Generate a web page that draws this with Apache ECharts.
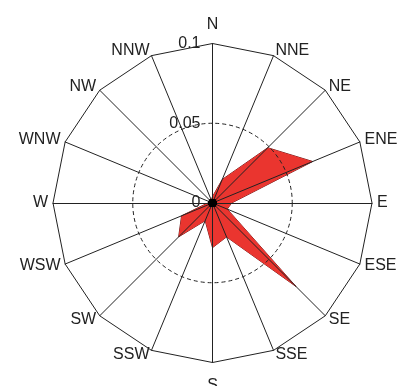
<!DOCTYPE html>
<html>
<head>
<meta charset="utf-8">
<style>
  html, body { margin: 0; padding: 0; background: #fff; }
  #chart { width: 398px; height: 386px; }
</style>
<script src="https://cdn.jsdelivr.net/npm/echarts@6/dist/echarts.min.js"></script>
</head>
<body>
<div id="chart"></div>
<script>
// Wind directions, clockwise from north
const directions = ['N', 'NNE', 'NE', 'ENE', 'E', 'ESE', 'SE', 'SSE',
                    'S', 'SSW', 'SW', 'WSW', 'W', 'WNW', 'NW', 'NNW'];
// Relative frequency per direction
const frequency = [0.004, 0.016, 0.049, 0.068, 0.012, 0.010, 0.074, 0.023,
                   0.028, 0.012, 0.030, 0.021, 0.003, 0.002, 0.002, 0.002];
// Radial scale
const radialMax = 0.1;
const radialTicks = [0, 0.05, 0.1];
const radialTickLabels = ['0', '0.05', '0.1'];

// ECharts radar lays indicators out counter-clockwise, so walk the list backwards
const order = [0].concat(directions.map((d, i) => i).slice(1).reverse());
const indicators = order.map(i => ({ name: directions[i], max: radialMax, min: 0 }));
const values = order.map(i => frequency[i]);
const zeros = order.map(() => 0);

const cx = 212.5, cy = 203, R = 159.5;
const lineColor = '#222';
const textColor = '#222';
const font = 'Liberation Sans, Arial, sans-serif';

const chart = echarts.init(document.getElementById('chart'), null, { renderer: 'canvas' });
chart.setOption({
  backgroundColor: '#fff',
  animation: false,
  radar: [
    {
      // outer frame, spokes and direction names
      center: [cx, cy],
      radius: R,
      startAngle: 90,
      shape: 'polygon',
      splitNumber: 1,
      indicator: indicators,
      z: 3,
      axisName: {
        color: textColor,
        fontFamily: font,
        fontSize: 16,
        formatter: function (name) {
          if (name === 'N') return '{n|N}';
          if (name === 'S') return '{s|S}';
          return name;
        },
        rich: {
          n: { fontSize: 16, fontFamily: font, color: textColor, padding: [0, 0, 6, 0] },
          s: { fontSize: 16, fontFamily: font, color: textColor, padding: [10, 0, 0, 0] }
        }
      },
      nameGap: 5,
      axisLine: { show: true, lineStyle: { color: lineColor, width: 1 } },
      axisTick: { show: false },
      axisLabel: { show: false },
      splitLine: { show: true, lineStyle: { color: lineColor, width: 1 } },
      splitArea: { show: false }
    },
    {
      // dashed inner ring at half the radial range
      center: [cx, cy],
      radius: R * radialTicks[1] / radialMax,
      startAngle: 90,
      shape: 'circle',
      splitNumber: 1,
      indicator: indicators.map(d => ({ name: '', max: radialMax, min: 0 })),
      z: 3,
      axisName: { show: false },
      axisLine: { show: false },
      axisTick: { show: false },
      axisLabel: { show: false },
      splitLine: { show: true, lineStyle: { color: lineColor, width: 1, type: [4, 3] } },
      splitArea: { show: false }
    }
  ],
  polar: { center: [cx, cy], radius: R },
  angleAxis: {
    type: 'value', startAngle: 90, min: 0, max: 360, show: false
  },
  radiusAxis: {
    type: 'value',
    min: radialTicks[0],
    max: radialMax,
    interval: radialTicks[1] - radialTicks[0],
    axisLine: { show: false },
    axisTick: { show: false },
    splitLine: { show: false },
    z: 5,
    axisLabel: {
      show: true,
      margin: 12,
      color: textColor,
      fontFamily: font,
      fontSize: 16,
      formatter: function (v) {
        const k = radialTicks.findIndex(t => Math.abs(t - v) < 1e-9);
        return k >= 0 ? radialTickLabels[k] : '';
      }
    }
  },
  series: [
    {
      type: 'radar',
      radarIndex: 0,
      z: 2,
      symbol: 'none',
      lineStyle: { color: '#6e1a1a', width: 1 },
      areaStyle: { color: '#ea352f', opacity: 1 },
      data: [{ value: values }]
    },
    {
      // hub marker
      type: 'radar',
      radarIndex: 0,
      z: 4,
      symbol: 'circle',
      symbolSize: 8,
      itemStyle: { color: '#000' },
      lineStyle: { width: 0 },
      data: [{ value: zeros }]
    }
  ]
});
</script>
</body>
</html>
